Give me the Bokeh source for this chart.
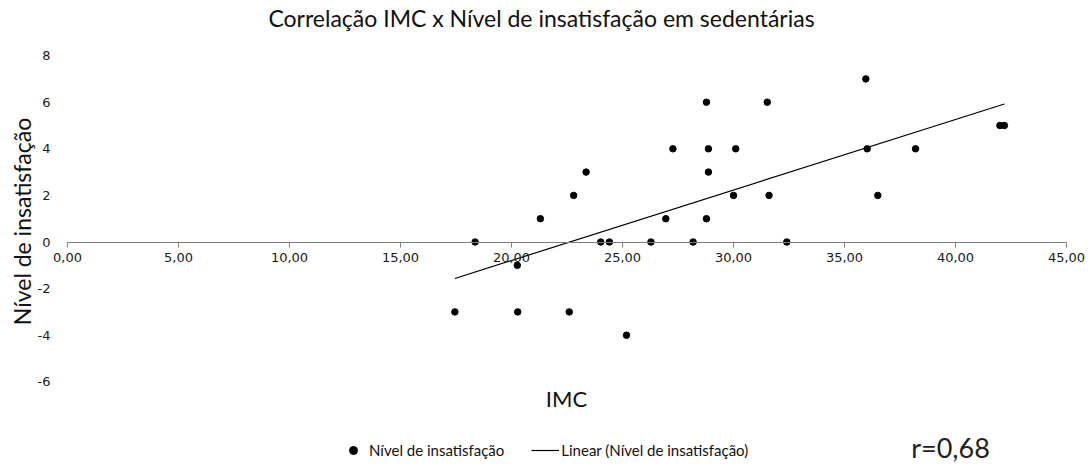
import math
import numpy as np
from bokeh.plotting import figure
from bokeh.models import Range1d, Label, Legend, LegendItem, FixedTicker
from bokeh.embed import file_html
from bokeh.resources import INLINE

# --- data ---
imc = [17.45, 18.36, 20.28, 20.26, 21.3, 22.6, 22.8, 23.36, 24.02, 24.41,
       25.18, 26.28, 26.95, 27.27, 28.18, 28.78, 28.87, 28.87, 28.78, 30.0,
       30.1, 31.52, 31.6, 32.4, 35.96, 36.02, 36.5, 38.2, 42.0, 42.2]
insat = [-3, 0, -3, -1, 1, -3, 2, 3, 0, 0,
         -4, 0, 1, 4, 0, 6, 4, 3, 1, 2,
         4, 6, 2, 0, 7, 4, 2, 4, 5, 5]
x_ticks = [0, 5, 10, 15, 20, 25, 30, 35, 40, 45]
x_tick_labels = ["0,00", "5,00", "10,00", "15,00", "20,00", "25,00",
                 "30,00", "35,00", "40,00", "45,00"]
y_ticks = [-6, -4, -2, 0, 2, 4, 6, 8]
y_tick_labels = ["-6", "-4", "-2", "0", "2", "4", "6", "8"]
title_text = "Correlação IMC x Nível de insatisfação em sedentárias"
x_title = "IMC"
y_title = "Nível de insatisfação"
series_name = "Nível de insatisfação"
trend_name = "Linear (Nível de insatisfação)"
r_text = "r=0,68"

# linear trend (least squares over the data)
slope, intercept = np.polyfit(imc, insat, 1)
trend_x = [min(imc), max(imc)]
trend_y = [slope * v + intercept for v in trend_x]

CAL = "Lato"
TICKF = "DejaVu Sans"
W, H = 1088, 466

# frame covers the whole canvas; axes cross inside it
p = figure(width=W, height=H, output_backend="svg", toolbar_location=None,
           x_range=Range1d(-3.018, 45.99), y_range=Range1d(-9.635, 10.365),
           min_border_left=0, min_border_right=0, min_border_top=0,
           min_border_bottom=0)
p.outline_line_color = None
p.grid.visible = False
p.background_fill_color = "white"
p.border_fill_color = "white"

xa = p.xaxis[0]
xa.fixed_location = 0
xa.bounds = (0, 45)
xa.ticker = FixedTicker(ticks=x_ticks)
xa.major_label_overrides = {t: l for t, l in zip(x_ticks, x_tick_labels)}
xa.axis_line_color = "#7f7f7f"
xa.major_tick_line_color = "#7f7f7f"
xa.major_tick_out = 5
xa.major_tick_in = 0
xa.minor_tick_line_color = None
xa.major_label_text_font = TICKF
xa.major_label_text_font_size = "13px"
xa.major_label_text_color = "#1a1a1a"
xa.major_label_standoff = 6

ya = p.yaxis[0]
ya.fixed_location = 0
ya.bounds = (-6, 8)
ya.ticker = FixedTicker(ticks=y_ticks)
ya.major_label_overrides = {t: l for t, l in zip(y_ticks, y_tick_labels)}
ya.axis_line_color = None
ya.major_tick_line_color = None
ya.minor_tick_line_color = None
ya.major_label_text_font = TICKF
ya.major_label_text_font_size = "13px"
ya.major_label_text_color = "#1a1a1a"
ya.major_label_standoff = 11

r_pts = p.scatter(imc, insat, size=6.5, color="black")
r_line = p.line(trend_x, trend_y, line_color="black", line_width=1.2)

legend = Legend(items=[LegendItem(label=series_name, renderers=[r_pts]),
                       LegendItem(label=trend_name, renderers=[r_line])],
                orientation="horizontal", location=(339, 6),
                glyph_width=28, glyph_height=20, label_standoff=2, spacing=27,
                padding=0, margin=0, border_line_color=None,
                background_fill_alpha=0, label_text_font=CAL,
                label_text_font_size="15px", label_text_color="#111111")
p.add_layout(legend, "center")

p.add_layout(Label(x=541, y=H - 17, x_units="screen", y_units="screen",
                   text=title_text, text_align="center", text_baseline="middle",
                   text_font=CAL, text_font_size="23px", text_color="#111111"))
p.add_layout(Label(x=21, y=H - 221, x_units="screen", y_units="screen",
                   text=y_title, angle=math.pi / 2, text_align="center",
                   text_baseline="middle", text_font=CAL, text_font_size="23px",
                   text_color="#111111"))
p.add_layout(Label(x=566, y=H - 398, x_units="screen", y_units="screen",
                   text=x_title, text_align="center", text_baseline="middle",
                   text_font=CAL, text_font_size="22px", text_color="#111111"))
p.add_layout(Label(x=950, y=H - 447, x_units="screen", y_units="screen",
                   text=r_text, text_align="center", text_baseline="middle",
                   text_font=CAL, text_font_size="27px", text_color="#222222"))

open("out.html", "w").write(file_html(p, INLINE))
